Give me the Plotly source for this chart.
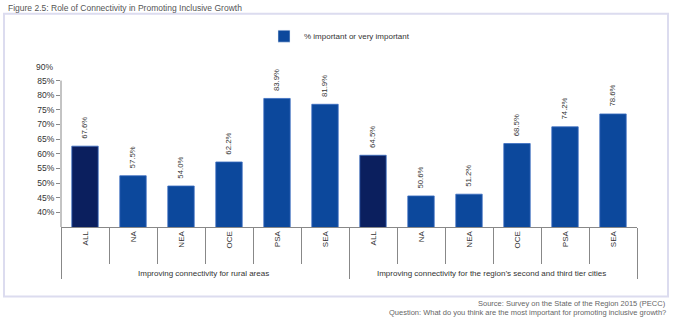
import plotly.graph_objects as go

groups = ["Improving connectivity for rural areas",
          "Improving connectivity for the region\u2019s second and third tier cities"]
regions = ["ALL", "NA", "NEA", "OCE", "PSA", "SEA"]
rural = [67.6, 57.5, 54.0, 62.2, 83.9, 81.9]
cities = [64.5, 50.6, 51.2, 68.5, 74.2, 78.6]
series_name = "% important or very important"
tick_vals = [45, 50, 55, 60, 65, 70, 75, 80, 85, 90]
tick_labels = ["40%", "45%", "50%", "55%", "60%", "65%", "70%", "75%", "80%", "85%"]
top_label = "90%"

NAVY = "#0b1f5e"
BLUE = "#0c489c"
FONT = "Liberation Sans, Arial, sans-serif"

xg, xc, vals, cols = [], [], [], []
for g, series in zip(groups, [rural, cities]):
    for r, v in zip(regions, series):
        xg.append("<br>" + g)
        xc.append(r)
        vals.append(v)
        cols.append(NAVY if r == "ALL" else BLUE)

fig = go.Figure()
fig.add_trace(go.Bar(
    x=[xg, xc], y=vals, showlegend=False,
    marker=dict(color=cols, line=dict(color="#3a6cc0", width=0.8)),
    texttemplate="\u00a0\u00a0%{y:.1f}%", textposition="outside", textangle=-90,
    textfont=dict(size=8, color="#333333", family=FONT),
    cliponaxis=False,
))
fig.add_trace(go.Bar(x=[[xg[0]], [regions[1]]], y=[None], name=series_name,
                     marker=dict(color=BLUE), showlegend=True))

# px mapping helpers (plot area: x 61..637, y 63.2..226.7)
L, R, T, B = 61, 637, 63.2, 226.7
def px(x):
    return (x - L) / (R - L)
def py(y):
    return (B - y) / (B - T)

fig.update_layout(
    width=700, height=325,
    margin=dict(l=L, r=700 - R, t=T, b=325 - B),
    paper_bgcolor="white", plot_bgcolor="white",
    barmode="overlay", bargap=0.45,
    font=dict(family=FONT, size=8, color="#333333"),
    title=dict(text="Figure 2.5: Role of Connectivity in Promoting Inclusive Growth",
               x=8 / 700, xanchor="left", y=1 - 8 / 325, yanchor="middle",
               font=dict(size=8.5, color="#555555", family=FONT)),
    legend=dict(orientation="h", x=px(264), y=py(22), xanchor="left", yanchor="top",
                font=dict(size=8, color="#333333", family=FONT),
                bgcolor="rgba(0,0,0,0)", itemwidth=30),
    yaxis=dict(range=[40, 96], tickvals=tick_vals, ticktext=tick_labels,
               showgrid=False, zeroline=False, showline=False,
               ticks="outside", ticklen=4, tickcolor="#888888",
               tickfont=dict(size=8.5, color="#333333")),
    xaxis=dict(type="multicategory", showgrid=False, showline=True,
               linecolor="#888888", linewidth=1,
               ticks="outside", tickson="boundaries", ticklen=36, tickcolor="#888888",
               tickangle=-90, showdividers=True, dividercolor="#888888", dividerwidth=1,
               tickfont=dict(size=8, color="#333333")),
    shapes=[
        dict(type="line", xref="paper", yref="y", x0=0, x1=0, y0=40, y1=90,
             line=dict(color="#888888", width=1)),
        dict(type="rect", xref="paper", yref="paper", x0=px(4), x1=px(668),
             y0=py(296), y1=py(14), line=dict(color="#dcdcef", width=2), layer="below"),
    ],
    annotations=[
        dict(text=top_label, xref="paper", yref="y", x=px(55), y=94.6,
             xanchor="right", yanchor="middle", showarrow=False,
             font=dict(size=8.5, color="#333333")),
        dict(text="Source: Survey on the State of the Region 2015 (PECC)",
             xref="paper", yref="paper", x=px(668), y=py(302.5), xanchor="right",
             yanchor="middle", showarrow=False, font=dict(size=7.5, color="#666666")),
        dict(text="Question: What do you think are the most important for promoting inclusive growth?",
             xref="paper", yref="paper", x=px(668), y=py(312), xanchor="right",
             yanchor="middle", showarrow=False, font=dict(size=7.5, color="#666666")),
    ],
)

fig.write_html("out.html")
